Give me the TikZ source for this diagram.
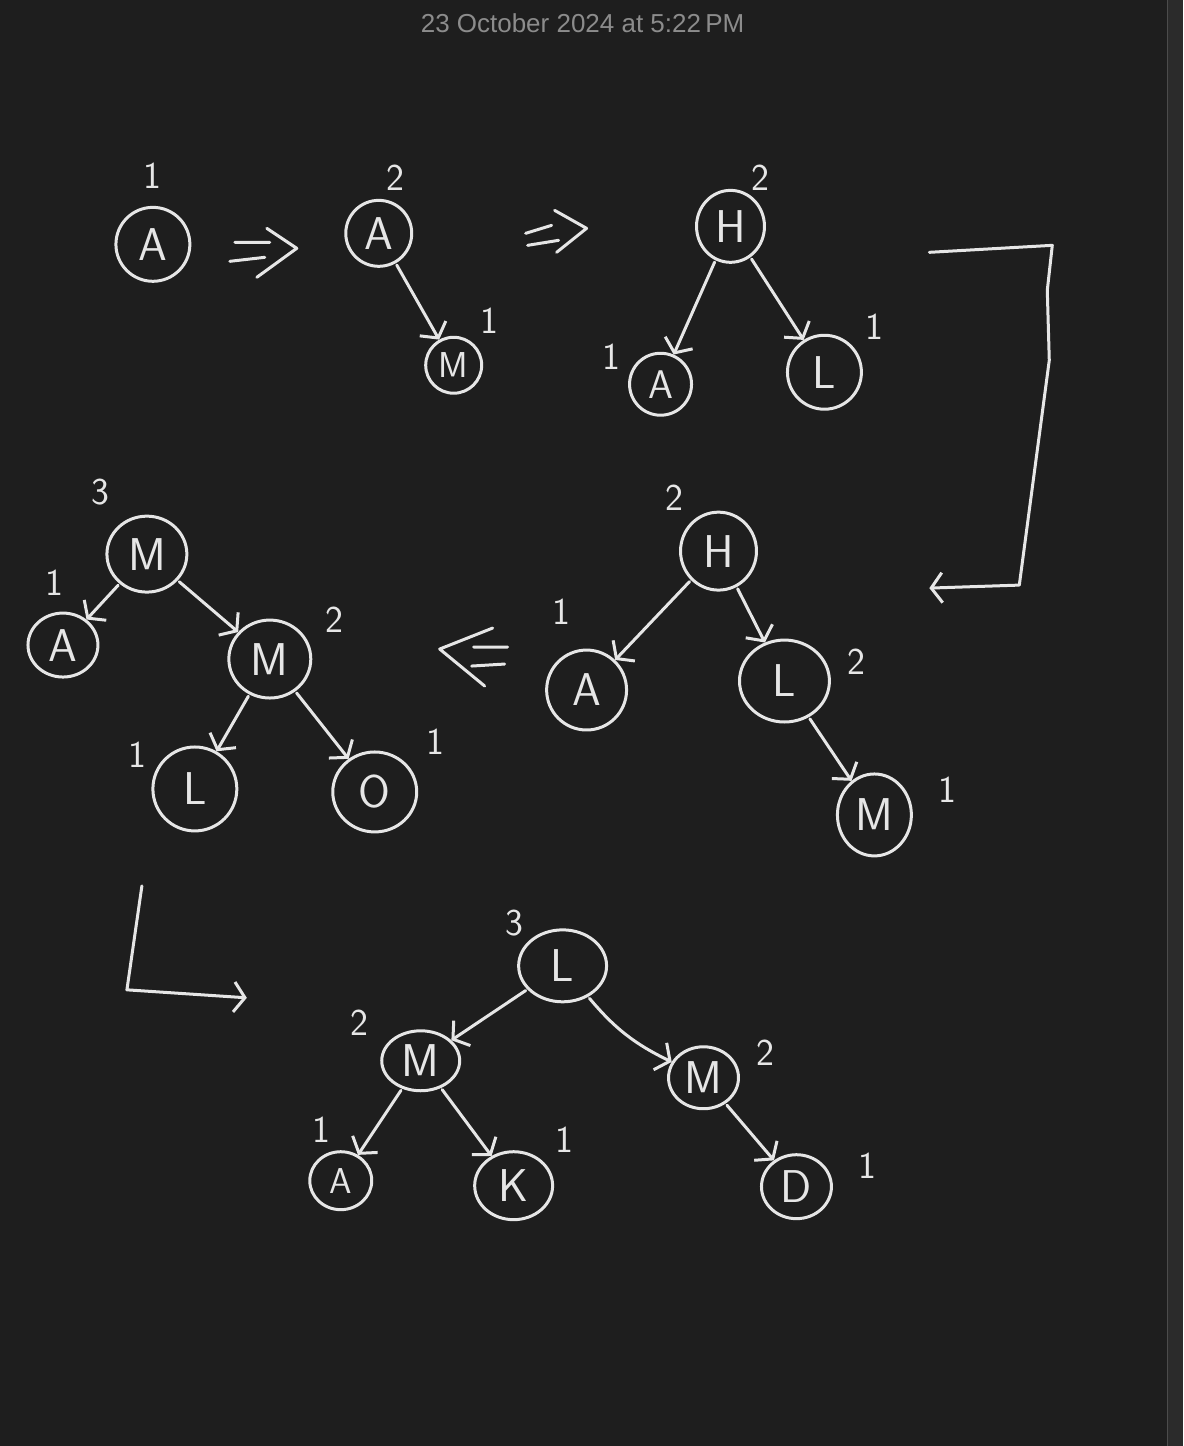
\documentclass[tikz,border=0pt]{standalone}
\usepackage{fontspec}
\usetikzlibrary{arrows.meta,shapes.geometric}
\newfontfamily\datefont{Liberation Sans}
\definecolor{board}{HTML}{1E1E1E}
\definecolor{strip}{HTML}{2B2B2B}
\definecolor{chalk}{HTML}{E6E6E6}
\definecolor{stamp}{HTML}{8C8C8C}
\tikzset{
  pen/.style={draw=chalk, line width=3pt, line cap=round, line join=round},
  vtx/.style={ellipse, pen, inner sep=0pt, minimum width=#1, minimum height=#1,
    text=chalk, font=\sffamily\fontsize{46}{46}\selectfont},
  ht/.style={text=chalk, inner sep=0pt, font=\sffamily\fontsize{38}{38}\selectfont},
  link/.style={pen, shorten <=2pt, -{Straight Barb[length=11pt,width=30pt]}},
}

\begin{document}
\begin{tikzpicture}[x=1pt,y=-1pt]
\fill[board] (0,0) rectangle (1184,1446);
\fill[strip] (1168,0) rectangle (1184,1446);
\draw[line width=1pt, color=black!70!white] (1168.5,0) -- (1168.5,1446);
\node[text=stamp, font=\datefont\fontsize{26}{26}\selectfont] (stamp) at (583,23) {23 October 2024 at 5:22\,PM};

% step 1 .. 3
\node[vtx=74pt] (a1) at (153,244) {A};
\node[ht] (n-a1) at (153,175) {1};
\draw[pen] (235,242) -- (270,242) (230,261) -- (265,257);
\draw[pen] (267,228) -- (297,248) -- (257,277);
\node[vtx=66pt] (a2) at (379,233) {A};
\node[ht] (n-a2) at (396,177) {2};
\node[vtx=56pt, font=\sffamily\fontsize{36}{36}\selectfont] (m2) at (454,365) {M};
\node[ht] (n-m2) at (490,320) {1};
\draw[link] (a2) -- (m2);
\draw[pen] (526,233) -- (552,225) (528,245) -- (559,240);
\draw[pen] (555,210) -- (587,228) -- (557,252);
\node[vtx=68pt, minimum height=72pt] (h3) at (731,226) {H};
\node[ht] (n-h3) at (761,177) {2};
\node[vtx=62pt, font=\sffamily\fontsize{40}{40}\selectfont] (a3) at (661,384) {A};
\node[ht] (n-a3) at (612,356) {1};
\node[vtx=74pt] (l3) at (825,372) {L};
\node[ht] (n-l3) at (875,326) {1};
\draw[link] (h3) -- (a3);
\draw[link] (h3) -- (l3);
\coordinate (r1) at (930,252);
\coordinate (r2) at (1053,245);
\coordinate (r3) at (1048,290);
\coordinate (r4) at (1050,360);
\coordinate (r5) at (1020,585);
\coordinate (r6) at (930,588);
\draw[link, shorten <=0pt] (r1) -- (r2) -- (r3) -- (r4) -- (r5) -- (r6);

% step 4 .. 5
\node[vtx=76pt, minimum height=78pt] (h4) at (719,551) {H};
\node[ht] (n-h4) at (675,498) {2};
\node[vtx=80pt] (a4) at (587,690) {A};
\node[ht] (n-a4) at (562,612) {1};
\node[vtx=90pt, minimum height=82pt] (l4) at (785,681) {L};
\node[ht] (n-l4) at (857,662) {2};
\node[vtx=74pt, minimum height=82pt] (m4) at (875,815) {M};
\node[ht] (n-m4) at (948,790) {1};
\draw[link] (h4) -- (a4);
\draw[link] (h4) -- (l4);
\draw[link] (l4) -- (m4);
\draw[pen] (493,628) -- (440,649) -- (485,686);
\draw[pen] (474,647) -- (508,647) (472,666) -- (505,664);
\node[vtx=80pt, minimum height=76pt] (m5) at (147,554) {M};
\node[ht] (n-m5) at (100,492) {3};
\node[vtx=70pt, minimum height=64pt] (a5) at (63,645) {A};
\node[ht] (n-a5) at (54,583) {1};
\node[vtx=82pt, minimum height=78pt] (m6) at (270,659) {M};
\node[ht] (n-m6) at (335,620) {2};
\node[vtx=84pt] (l6) at (195,789) {L};
\node[ht] (n-l6) at (138,755) {1};
\node[vtx=84pt, minimum height=80pt] (o6) at (375,792) {O};
\node[ht] (n-o6) at (436,742) {1};
\draw[link] (m5) -- (a5);
\draw[link] (m5) -- (m6);
\draw[link] (m6) -- (l6);
\draw[link] (m6) -- (o6);
\coordinate (d1) at (142,886);
\coordinate (d2) at (127,990);
\coordinate (d3) at (247,998);
\draw[link, shorten <=0pt] (d1) -- (d2) -- (d3);

% step 6
\node[vtx=88pt, minimum height=72pt] (l7) at (563,966) {L};
\node[ht] (n-l7) at (515,923) {3};
\node[vtx=78pt, minimum height=60pt] (m7) at (421,1061) {M};
\node[ht] (n-m7) at (360,1023) {2};
\node[vtx=62pt, minimum height=58pt, font=\sffamily\fontsize{36}{36}\selectfont] (a7) at (341,1181) {A};
\node[ht] (n-a7) at (322,1130) {1};
\node[vtx=78pt, minimum height=68pt] (k7) at (514,1186) {K};
\node[ht] (n-k7) at (565,1140) {1};
\node[vtx=70pt, minimum height=62pt] (m8) at (704,1078) {M};
\node[ht] (n-m8) at (766,1053) {2};
\node[vtx=70pt, minimum height=64pt] (o8) at (797,1187) {D};
\node[ht] (n-o8) at (868,1166) {1};
\draw[link] (l7) -- (m7);
\draw[link] (l7) to[bend right=12] (m8);
\draw[link] (m7) -- (a7);
\draw[link] (m7) -- (k7);
\draw[link] (m8) -- (o8);
\end{tikzpicture}
\end{document}
